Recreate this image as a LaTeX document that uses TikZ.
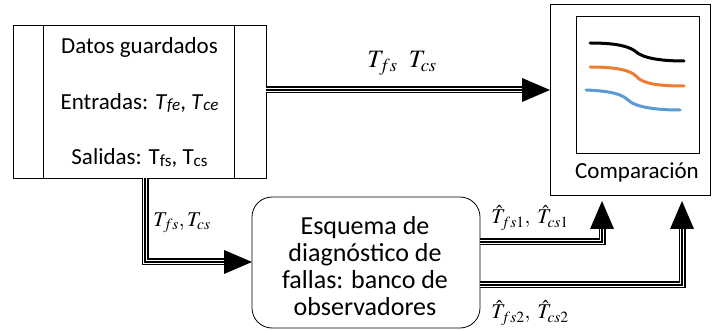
\documentclass[tikz,border=0pt]{standalone}
\usepackage{mathptmx}
\usepackage{fontspec}
\setmainfont{Carlito}
\usetikzlibrary{calc}
\tikzset{
  tri/.style={line width=4.2pt, draw=white, line join=miter,
    preaction={draw=black, line width=7pt, line join=miter},
    postaction={draw=black, line width=2pt, line join=miter}},
  headfill/.style={fill=black},
  box/.style={draw=black, line width=0.8pt, inner sep=0pt},
  txt/.style={font=\fontsize{23}{27}\selectfont, inner sep=0pt},
  lbl/.style={font=\fontsize{21}{24}\selectfont, inner sep=0pt},
  curve/.style={line width=3pt, line cap=round},
}
\definecolor{corange}{RGB}{237,125,49}
\definecolor{cblue}{RGB}{91,155,213}
\newcommand{\smallsub}[1]{\raisebox{-1.5pt}{\fontsize{17}{17}\selectfont #1}}
\begin{document}
\begin{tikzpicture}[x=1pt,y=-1pt]
\useasboundingbox[fill=white] (0,0) rectangle (713,331);
% left box
\node[box, minimum width=253pt, minimum height=153pt] (L) at (139.5,101.5) {};
\draw[line width=0.8pt] ([xshift=31pt]L.north west) -- ([xshift=31pt]L.south west);
\draw[line width=0.8pt] ([xshift=-32pt]L.north east) -- ([xshift=-32pt]L.south east);
\node[txt] (t1) at (139.5,47) {Datos guardados};
\node[txt] (t2) at (139.5,103) {Entradas: \textit{T}\smallsub{\textit{fe}}, \textit{T}\smallsub{\textit{ce}}};
\node[txt] (t3) at (139.5,158) {Salidas: T\smallsub{fs}, T\smallsub{cs}};
% comparison box
\node[box, minimum width=160pt, minimum height=191pt] (C) at (630,99.5) {};
\node[box, minimum width=123pt, minimum height=137pt] (S) at (637.5,84.5) {};
\node[txt] (ct) at (637,172) {Comparación};
\draw[curve, black] (590,43) .. controls (615,43) and (628,46) .. (635,51) .. controls (642,58) and (660,61) .. (684,61);
\draw[curve, corange] (590,67) .. controls (615,67) and (630,70) .. (636,76) .. controls (642,84) and (660,86) .. (684,86);
\draw[curve, cblue] (586,90) .. controls (610,91) and (622,94) .. (628,100) .. controls (636,108) and (660,110) .. (680,110);
% rounded box
\node[box, rounded corners=20pt, minimum width=228pt, minimum height=131pt] (R) at (366,262.5) {};
\node[txt, align=center, font=\fontsize{26}{27}\selectfont] (rt) at (365,266) {Esquema de\\diagnóstico de\\fallas: banco de\\observadores};
% coordinates
\coordinate (a1) at (550,90);
\coordinate (a2) at (252,262);
\coordinate (a3) at (602,201);
\coordinate (a4) at (682,201);
\coordinate (c2) at (145,262);
% arrow 1
\draw[tri] (L.east |- a1) -- ($(a1)+(-26,0)$);
\fill[headfill] (a1) -- ++(-28,-12) -- ++(0,24) -- cycle;
% arrow 2
\draw[tri] (c2 |- L.south) -- (c2) -- ($(a2)+(-26,0)$);
\fill[headfill] (a2) -- ++(-28,-12) -- ++(0,24) -- cycle;
% arrow 3
\draw[tri] (R.east |- 0,242) -- (a3 |- 0,242) -- ($(a3)+(0,26)$);
\fill[headfill] (a3) -- ++(-12,28) -- ++(24,0) -- cycle;
% arrow 4
\draw[tri] (R.east |- 0,285) -- (a4 |- 0,285) -- ($(a4)+(0,26)$);
\fill[headfill] (a4) -- ++(-12,28) -- ++(24,0) -- cycle;
% labels
\node[lbl, font=\fontsize{25}{30}\selectfont] (l1) at (402,63) {$T_{fs}\;\;T_{cs}$};
\node[lbl] (l2) at (182,223) {$T_{fs}, T_{cs}$};
\node[lbl] (l3) at (530,218) {$\hat{T}_{fs1},\;\hat{T}_{cs1}$};
\node[lbl] (l4) at (530,313) {$\hat{T}_{fs2},\;\hat{T}_{cs2}$};
\end{tikzpicture}
\end{document}
